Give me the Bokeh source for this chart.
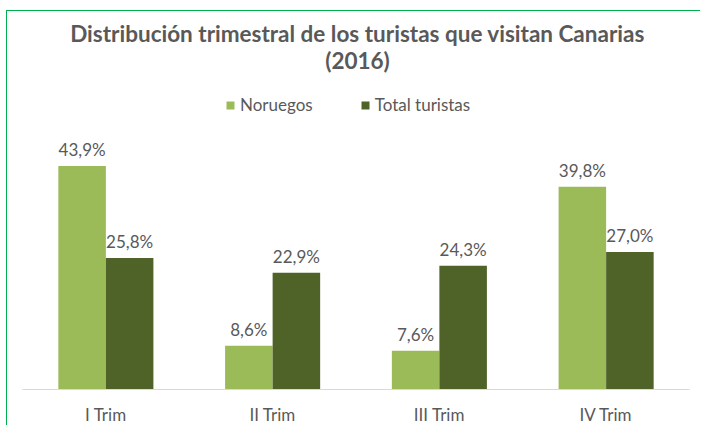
from bokeh.plotting import figure
from bokeh.models import ColumnDataSource, FactorRange, Range1d, Legend, LegendItem, Label
from bokeh.transform import dodge
from bokeh.core.properties import value
from bokeh.embed import file_html
from bokeh.resources import INLINE

categories = ["I Trim", "II Trim", "III Trim", "IV Trim"]
noruegos = [43.9, 8.6, 7.6, 39.8]
total_turistas = [25.8, 22.9, 24.3, 27.0]
series_names = ["Noruegos", "Total turistas"]
title_lines = ["Distribución trimestral de los turistas que visitan Canarias", "(2016)"]

FONT = "Lato"
GRAY = "#595959"
C1 = "#9BBB59"
C2 = "#4F6228"

def fmt(v):
    return ("%.1f%%" % v).replace(".", ",")

src = ColumnDataSource(dict(
    cat=categories,
    nor=noruegos,
    tot=total_turistas,
    nor_lbl=[fmt(v) for v in noruegos],
    tot_lbl=[fmt(v) for v in total_turistas],
))

p = figure(width=694, height=416, output_backend="svg", toolbar_location=None,
           x_range=FactorRange(*categories, range_padding=0),
           y_range=Range1d(0, 377 / 5.08),
           min_border_left=15, min_border_right=12, min_border_top=0, min_border_bottom=37)
p.styles = {"margin-left": "6px", "margin-top": "10px",
            "border-top": "1px solid #00B050", "border-left": "1px solid #00B050"}
p.outline_line_color = None
p.grid.visible = False
p.yaxis.visible = False
p.background_fill_color = "white"
p.border_fill_color = "white"

xa = p.xaxis[0]
xa.axis_line_color = "#D9D9D9"
xa.major_tick_line_color = None
xa.minor_tick_line_color = None
xa.major_tick_out = 0
xa.major_tick_in = 0
xa.minor_tick_out = 0
xa.major_label_text_font = FONT
xa.major_label_text_font_size = "17px"
xa.major_label_text_color = GRAY
xa.major_label_standoff = 14

off = 0.1425
bw = 0.285
r1 = p.vbar(x=dodge("cat", -off, range=p.x_range), top="nor", width=bw, source=src,
            fill_color=C1, line_color=None)
r2 = p.vbar(x=dodge("cat", off, range=p.x_range), top="tot", width=bw, source=src,
            fill_color=C2, line_color=None)

for col, lbl, o in (("nor", "nor_lbl", -off), ("tot", "tot_lbl", off)):
    p.text(x=dodge("cat", o, range=p.x_range), y=col, text=lbl, source=src,
           text_align="center", text_baseline="bottom", y_offset=-6,
           text_font=value(FONT), text_font_size="17px", text_color=GRAY)

legend = Legend(items=[LegendItem(label=series_names[0], renderers=[r1]),
                       LegendItem(label=series_names[1], renderers=[r2])],
                orientation="horizontal", location=(203, 274),
                glyph_width=10, glyph_height=10, label_standoff=5, spacing=47,
                padding=0, margin=0, border_line_color=None, background_fill_alpha=0,
                label_text_font=FONT, label_text_font_size="17px", label_text_color=GRAY)
p.add_layout(legend, "center")

p.add_layout(Label(x=335, y=356, x_units="screen", y_units="screen", text=title_lines[0],
                   text_align="center", text_baseline="middle", text_font=FONT,
                   text_font_size="22.5px", text_font_style="bold", text_color=GRAY))
p.add_layout(Label(x=335, y=329, x_units="screen", y_units="screen", text=title_lines[1],
                   text_align="center", text_baseline="middle", text_font=FONT,
                   text_font_size="22.5px", text_font_style="bold", text_color=GRAY))

open("out.html", "w").write(file_html(p, INLINE))
